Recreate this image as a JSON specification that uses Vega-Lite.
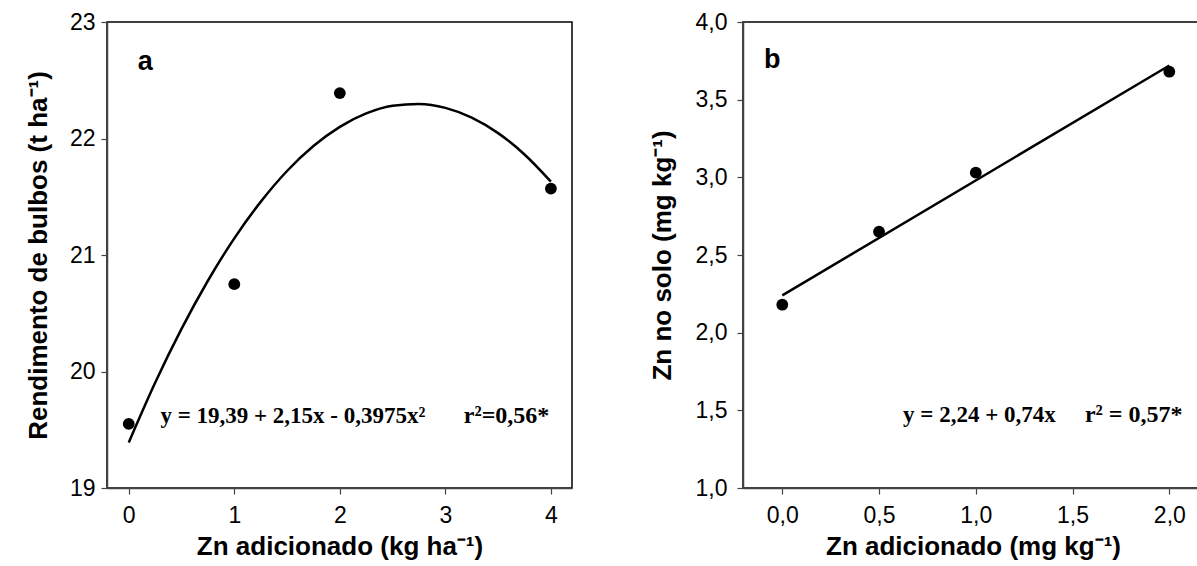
{
  "$schema": "https://vega.github.io/schema/vega-lite/v6.json",
  "padding": {"left": 24, "top": 10, "right": 0, "bottom": 0},
  "background": "white",
  "spacing": 75,
  "config": {
    "view": {"stroke": "#000", "strokeWidth": 1.5},
    "axis": {
      "grid": false,
      "labelFont": "Liberation Sans",
      "labelFontSize": 23,
      "labelColor": "#000",
      "titleFont": "Liberation Sans",
      "titleFontSize": 26,
      "titleFontWeight": "bold",
      "titleColor": "#000",
      "domainColor": "#444",
      "domainWidth": 1.5,
      "tickColor": "#444",
      "tickWidth": 1.2,
      "tickSize": 6
    },
    "axisX": {"labelPadding": 10, "titlePadding": 6},
    "axisY": {"labelPadding": 6, "titlePadding": 18}
  },
  "datasets": {
    "curveA": [
      {"x": 0, "y": 19.39}, {"x": 0.25, "y": 19.903}, {"x": 0.5, "y": 20.366}, {"x": 0.75, "y": 20.779},
      {"x": 1, "y": 21.143}, {"x": 1.25, "y": 21.456}, {"x": 1.5, "y": 21.721}, {"x": 1.75, "y": 21.935},
      {"x": 2, "y": 22.1}, {"x": 2.25, "y": 22.215}, {"x": 2.5, "y": 22.281}, {"x": 2.75, "y": 22.296},
      {"x": 3, "y": 22.263}, {"x": 3.25, "y": 22.179}, {"x": 3.5, "y": 22.046}, {"x": 3.75, "y": 21.863},
      {"x": 4, "y": 21.63}
    ],
    "pointsA": [
      {"x": 0, "y": 19.55}, {"x": 1, "y": 20.75}, {"x": 2, "y": 22.39}, {"x": 4, "y": 21.57}
    ],
    "textA": [
      {"x": 0.3, "y": 19.62, "label": "y = 19,39 + 2,15x - 0,3975x²", "kind": "eq"},
      {"x": 3.58, "y": 19.62, "label": "r²=0,56*", "kind": "r2"},
      {"x": 0.085, "y": 22.66, "label": "a", "kind": "letter"}
    ],
    "lineB": [
      {"x": 0, "y": 2.24}, {"x": 2, "y": 3.72}
    ],
    "pointsB": [
      {"x": 0, "y": 2.18}, {"x": 0.5, "y": 2.65}, {"x": 1, "y": 3.03}, {"x": 2, "y": 3.68}
    ],
    "textB": [
      {"x": 0.624, "y": 1.47, "label": "y = 2,24 + 0,74x", "kind": "eq"},
      {"x": 1.816, "y": 1.47, "label": "r² = 0,57*", "kind": "r2"},
      {"x": -0.095, "y": 3.755, "label": "b", "kind": "letter"}
    ]
  },
  "hconcat": [
    {
      "width": 465,
      "height": 466,
      "encoding": {
        "x": {"field": "x", "type": "quantitative",
          "scale": {"domain": [-0.206, 4.2], "nice": false, "zero": false},
          "axis": {"values": [0, 1, 2, 3, 4], "format": "d", "title": "Zn adicionado (kg ha⁻¹)"}},
        "y": {"field": "y", "type": "quantitative",
          "scale": {"domain": [19, 23], "nice": false, "zero": false},
          "axis": {"values": [19, 20, 21, 22, 23], "format": "d", "title": "Rendimento de bulbos (t ha⁻¹)"}}
      },
      "layer": [
        {"data": {"name": "curveA"}, "mark": {"type": "line", "color": "#000", "strokeWidth": 2.5, "interpolate": "monotone"}},
        {"data": {"name": "pointsA"}, "mark": {"type": "point", "filled": true, "color": "#000", "opacity": 1, "size": 140}},
        {"data": {"name": "textA"}, "transform": [{"filter": "datum.kind === 'eq'"}],
          "mark": {"type": "text", "align": "left", "baseline": "middle", "font": "Liberation Serif", "fontWeight": "bold", "fontSize": 23, "color": "#000"},
          "encoding": {"text": {"field": "label"}}},
        {"data": {"name": "textA"}, "transform": [{"filter": "datum.kind === 'r2'"}],
          "mark": {"type": "text", "align": "center", "baseline": "middle", "font": "Liberation Serif", "fontWeight": "bold", "fontSize": 24, "color": "#000"},
          "encoding": {"text": {"field": "label"}}},
        {"data": {"name": "textA"}, "transform": [{"filter": "datum.kind === 'letter'"}],
          "mark": {"type": "text", "align": "left", "baseline": "middle", "font": "Liberation Sans", "fontWeight": "bold", "fontSize": 27, "color": "#000"},
          "encoding": {"text": {"field": "label"}}}
      ]
    },
    {
      "width": 460,
      "height": 466,
      "encoding": {
        "x": {"field": "x", "type": "quantitative",
          "scale": {"domain": [-0.203, 2.174], "nice": false, "zero": false},
          "axis": {"values": [0, 0.5, 1, 1.5, 2], "labelExpr": "replace(format(datum.value, '.1f'), '.', ',')", "title": "Zn adicionado (mg kg⁻¹)"}},
        "y": {"field": "y", "type": "quantitative",
          "scale": {"domain": [1, 4], "nice": false, "zero": false},
          "axis": {"values": [1, 1.5, 2, 2.5, 3, 3.5, 4], "labelExpr": "replace(format(datum.value, '.1f'), '.', ',')", "title": "Zn no solo (mg kg⁻¹)", "labelPadding": 10, "titlePadding": 20}}
      },
      "layer": [
        {"data": {"name": "lineB"}, "mark": {"type": "line", "color": "#000", "strokeWidth": 2.5}},
        {"data": {"name": "pointsB"}, "mark": {"type": "point", "filled": true, "color": "#000", "opacity": 1, "size": 140}},
        {"data": {"name": "textB"}, "transform": [{"filter": "datum.kind === 'eq'"}],
          "mark": {"type": "text", "align": "left", "baseline": "middle", "font": "Liberation Serif", "fontWeight": "bold", "fontSize": 23, "color": "#000"},
          "encoding": {"text": {"field": "label"}}},
        {"data": {"name": "textB"}, "transform": [{"filter": "datum.kind === 'r2'"}],
          "mark": {"type": "text", "align": "center", "baseline": "middle", "font": "Liberation Serif", "fontWeight": "bold", "fontSize": 24, "color": "#000"},
          "encoding": {"text": {"field": "label"}}},
        {"data": {"name": "textB"}, "transform": [{"filter": "datum.kind === 'letter'"}],
          "mark": {"type": "text", "align": "left", "baseline": "middle", "font": "Liberation Sans", "fontWeight": "bold", "fontSize": 27, "color": "#000"},
          "encoding": {"text": {"field": "label"}}}
      ]
    }
  ]
}
